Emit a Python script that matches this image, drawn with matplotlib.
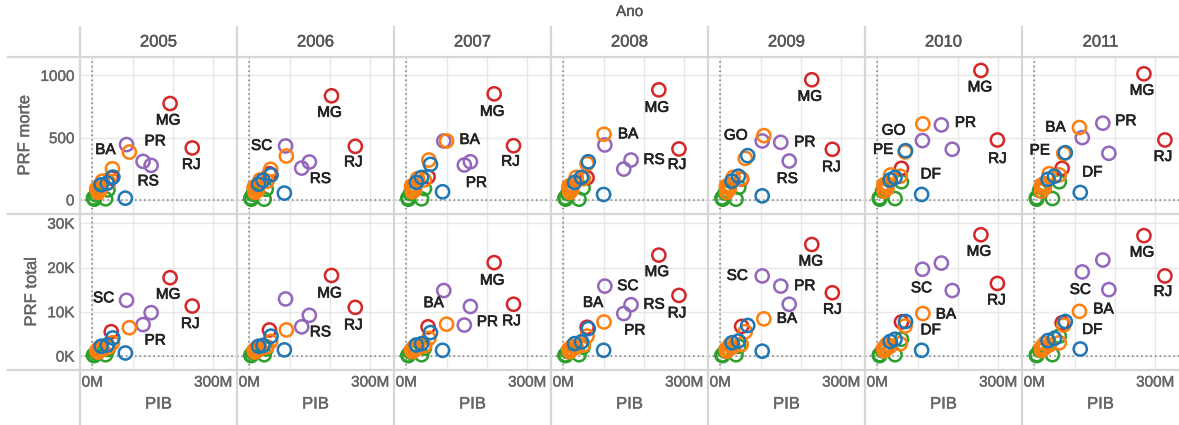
import matplotlib

matplotlib.use("Agg")
import matplotlib.pyplot as plt
import matplotlib.patheffects as pe
from matplotlib.lines import Line2D
from matplotlib.ticker import FuncFormatter

plt.rcParams["font.family"] = ["Liberation Sans", "DejaVu Sans"]

YEARS = [2005, 2006, 2007, 2008, 2009, 2010, 2011]
STATES = ["MG", "RJ", "ES", "BA", "PE", "CE", "MA", "RN", "PB", "AL", "PI", "SE",
          "PR", "RS", "SC", "GO", "DF", "MT", "MS", "PA", "AM", "RO", "TO", "AC", "AP", "RR"]
REGION = ["SE", "SE", "SE", "NE", "NE", "NE", "NE", "NE", "NE", "NE", "NE", "NE",
          "S", "S", "S", "CO", "CO", "CO", "CO", "N", "N", "N", "N", "N", "N", "N"]

# PIB (M), one row per state, columns 2005..2011
PIB = [
    [193, 204, 218, 237, 227, 257, 272],
    [248, 263, 266, 287, 278, 298, 324],
    [47, 50, 54, 59, 53, 60, 69],
    [92, 92, 100, 101, 108, 113, 112],
    [50, 53, 56, 59, 62, 69, 73],
    [41, 44, 45, 50, 52, 57, 62],
    [25, 27, 28, 32, 32, 33, 37],
    [18, 20, 21, 21, 22, 24, 25],
    [17, 19, 20, 22, 23, 23, 25],
    [14, 15, 16, 16, 17, 18, 21],
    [11, 12, 13, 14, 15, 16, 18],
    [15, 14, 15, 16, 16, 17, 18],
    [126, 130, 144, 150, 150, 159, 170],
    [146, 149, 159, 168, 171, 186, 185],
    [85, 90, 93, 103, 104, 112, 119],
    [51, 54, 60, 62, 68, 70, 77],
    [82, 87, 90, 100, 104, 110, 114],
    [37, 34, 38, 45, 45, 44, 50],
    [22, 23, 25, 28, 29, 32, 34],
    [39, 42, 45, 49, 46, 60, 62],
    [33, 37, 38, 39, 39, 44, 45],
    [13, 12, 14, 15, 16, 17, 19],
    [9, 9, 10, 11, 12, 13, 13],
    [4, 5, 5, 6, 6, 6, 6],
    [5, 5, 5, 6, 6, 6, 6],
    [3, 4, 4, 4, 4, 5, 5],
]

PRF_MORTE = [
    [774, 836, 852, 884, 965, 1040, 1013],
    [417, 430, 435, 409, 406, 481, 481],
    [175, 210, 185, 177, 167, 253, 253],
    [384, 352, 473, 527, 516, 610, 581],
    [250, 245, 320, 290, 333, 385, 372],
    [140, 150, 160, 170, 170, 190, 200],
    [150, 160, 170, 180, 180, 200, 210],
    [70, 75, 80, 80, 85, 90, 95],
    [110, 115, 120, 120, 120, 130, 130],
    [80, 85, 90, 90, 95, 100, 100],
    [90, 100, 110, 110, 110, 120, 120],
    [60, 60, 65, 60, 60, 70, 70],
    [309, 255, 280, 247, 462, 602, 616],
    [277, 304, 306, 320, 312, 406, 374],
    [444, 433, 473, 441, 473, 476, 500],
    [183, 200, 285, 306, 355, 395, 379],
    [13, 54, 65, 43, 32, 43, 59],
    [134, 156, 180, 180, 190, 180, 190],
    [121, 125, 140, 140, 150, 160, 165],
    [80, 85, 90, 95, 100, 145, 145],
    [8, 5, 8, 5, 5, 10, 10],
    [60, 60, 65, 65, 70, 90, 100],
    [40, 45, 50, 50, 55, 70, 75],
    [10, 10, 10, 10, 10, 15, 15],
    [5, 5, 5, 5, 5, 5, 5],
    [15, 15, 15, 15, 15, 15, 15],
]

PRF_TOTAL = [
    [17700, 18200, 21100, 22800, 25200, 27400, 27200],
    [11300, 11000, 11700, 13700, 14300, 16400, 18100],
    [5500, 5900, 6600, 6500, 6700, 7700, 7500],
    [6400, 5900, 7200, 7700, 8400, 9600, 10100],
    [3000, 3300, 4000, 4500, 5500, 6800, 7000],
    [2000, 2100, 2300, 2500, 2600, 2800, 3000],
    [1500, 1600, 1800, 2000, 2100, 2300, 2500],
    [1200, 1300, 1400, 1500, 1600, 1700, 1800],
    [1800, 1900, 2100, 2200, 2400, 2600, 2800],
    [1000, 1000, 1100, 1200, 1300, 1400, 1500],
    [1200, 1300, 1400, 1500, 1600, 1800, 2000],
    [900, 900, 1000, 1000, 1100, 1200, 1300],
    [7100, 6600, 7000, 9600, 15800, 21000, 21700],
    [9800, 9200, 11200, 11600, 11700, 14800, 15000],
    [12600, 12900, 14800, 15800, 18100, 19600, 19000],
    [4100, 4500, 5300, 6200, 6900, 7800, 7800],
    [700, 1400, 1300, 1300, 1100, 1300, 1600],
    [2500, 2400, 2800, 3200, 3400, 3800, 4000],
    [2200, 2200, 2500, 2800, 3000, 3300, 3500],
    [1500, 1600, 1800, 2000, 2200, 3800, 4500],
    [300, 300, 300, 300, 300, 300, 300],
    [900, 1000, 1100, 1200, 1300, 1500, 1600],
    [700, 800, 900, 1000, 1100, 1200, 1300],
    [200, 200, 200, 200, 200, 300, 300],
    [100, 100, 100, 100, 100, 100, 100],
    [200, 200, 200, 200, 200, 200, 200],
]

# label placement: (year, row, state, dx px, dy px)
LABELS = [
    (2005, 0, "BA", -24, 2), (2005, 0, "PR", 12, 20), (2005, 0, "MG", -2, -17),
    (2005, 0, "RS", -3, -16), (2005, 0, "RJ", -1, -17),
    (2005, 1, "SC", -23, 2), (2005, 1, "MG", -2, -17), (2005, 1, "RJ", -2, -18),
    (2005, 1, "PR", 12, -16),
    (2006, 0, "SC", -24, 0), (2006, 0, "MG", -2, -17), (2006, 0, "RJ", -2, -16),
    (2006, 0, "RS", 11, -17),
    (2006, 1, "MG", -2, -18), (2006, 1, "RJ", -2, -18), (2006, 1, "RS", 11, -17),
    (2007, 0, "MG", -2, -18), (2007, 0, "BA", 23, 1), (2007, 0, "RJ", -3, -16),
    (2007, 0, "PR", 12, -18),
    (2007, 1, "MG", -2, -18), (2007, 1, "BA", -13, 21), (2007, 1, "PR", 23, 3),
    (2007, 1, "RJ", -2, -17),
    (2008, 0, "MG", -2, -18), (2008, 0, "BA", 24, 0), (2008, 0, "RS", 23, 0),
    (2008, 0, "RJ", -2, -16),
    (2008, 1, "MG", -2, -17), (2008, 1, "SC", 23, 0), (2008, 1, "BA", -11, 19),
    (2008, 1, "RS", 23, 0), (2008, 1, "RJ", -2, -18), (2008, 1, "PR", 11, -17),
    (2009, 0, "MG", -2, -17), (2009, 0, "GO", -12, 20), (2009, 0, "PR", 24, 0),
    (2009, 0, "RJ", -1, -18), (2009, 0, "RS", -2, -18),
    (2009, 1, "MG", -1, -17), (2009, 1, "SC", -25, 0), (2009, 1, "PR", 24, 0),
    (2009, 1, "RJ", 0, -17), (2009, 1, "BA", 23, 0),
    (2010, 0, "MG", -1, -17), (2010, 0, "PR", 24, 2), (2010, 0, "GO", -12, 20),
    (2010, 0, "PE", -22, 2), (2010, 0, "RJ", 0, -19), (2010, 0, "DF", 9, 20),
    (2010, 1, "MG", -2, -17), (2010, 1, "SC", -1, -19), (2010, 1, "RJ", -1, -17),
    (2010, 1, "BA", 23, -1), (2010, 1, "DF", 9, 20),
    (2011, 0, "MG", -2, -17), (2011, 0, "BA", -24, 0), (2011, 0, "PR", 23, 2),
    (2011, 0, "PE", -24, 3), (2011, 0, "RJ", -2, -17), (2011, 0, "DF", 12, 20),
    (2011, 1, "MG", -2, -17), (2011, 1, "SC", -2, -18), (2011, 1, "RJ", -2, -16),
    (2011, 1, "BA", 24, 2), (2011, 1, "DF", 12, 19),
]

COLORS = {"SE": "#d62728", "NE": "#ff7f0e", "S": "#9467bd", "CO": "#1f77b4", "N": "#2ca02c"}
DRAW_ORDER = ["N", "SE", "S", "NE", "CO"]

W, H = 1179, 425
LEFT, PANEL_W = 80, 157
ROW_TOP = [57, 213.5]
ROW_H = 156.5
SEP = "#d6d6d6"
GRID = "#e8e8e8"
TXT = "#666666"


def thick(color, w=0.3):
    return [pe.withStroke(linewidth=w, foreground=color)]


fig = plt.figure(figsize=(W / 100, H / 100), dpi=100)


def fx(px):
    return px / W


def fy(py):
    return 1 - py / H


rows = [PRF_MORTE, PRF_TOTAL]
ylims = [(-110, 1148), (-3150, 32200)]
yticks = [[0, 500, 1000], [0, 10000, 20000, 30000]]
yfmt = [lambda v, p: f"{v:.0f}", lambda v, p: f"{v / 1000:.0f}K"]

for r in range(2):
    for c, year in enumerate(YEARS):
        ax = fig.add_axes([fx(LEFT + c * PANEL_W), fy(ROW_TOP[r] + ROW_H),
                           fx(PANEL_W), ROW_H / H])
        ax.set_xlim(-30.5, 359)
        ax.set_ylim(*ylims[r])
        for s in ax.spines.values():
            s.set_visible(False)
        ax.set_xticks([0, 100, 200, 300])
        ax.set_yticks(yticks[r])
        ax.grid(True, color=GRID, linewidth=1.0)
        ax.set_axisbelow(True)
        ax.axhline(0, color="#7a7a7a", linewidth=1.1, linestyle=(0, (1, 2)), zorder=1)
        ax.axvline(0, color="#7a7a7a", linewidth=1.1, linestyle=(0, (1, 2)), zorder=1)
        ax.tick_params(length=0, labelsize=11, colors=TXT, pad=4)
        if c == 0:
            ax.yaxis.set_major_formatter(FuncFormatter(yfmt[r]))
            ax.set_ylabel("PRF morte" if r == 0 else "PRF total", fontsize=12, color=TXT,
                          labelpad=6, path_effects=thick(TXT))
        else:
            ax.set_yticklabels([])
        if r == 1:
            ax.xaxis.set_major_formatter(FuncFormatter(lambda v, p: f"{v:.0f}M" if v in (0, 300) else ""))
            ax.set_xlabel("PIB", fontsize=12, color=TXT, labelpad=5, path_effects=thick(TXT))
        else:
            ax.set_xticklabels([])
        for lab in ax.get_xticklabels() + ax.get_yticklabels():
            lab.set_path_effects(thick(TXT))

        vals = rows[r]
        for reg in DRAW_ORDER:
            xs = [PIB[i][c] for i in range(len(STATES)) if REGION[i] == reg]
            ys = [vals[i][c] for i in range(len(STATES)) if REGION[i] == reg]
            ax.scatter(xs, ys, s=90, facecolors="none", edgecolors=COLORS[reg],
                       linewidths=1.8, zorder=3, clip_on=False)

        for (yr, rr, st, dx, dy) in LABELS:
            if yr == year and rr == r:
                i = STATES.index(st)
                ax.annotate(st, (PIB[i][c], vals[i][c]), xytext=(dx, dy),
                            textcoords="offset pixels", ha="center", va="center",
                            fontsize=11, color="#222222", zorder=5,
                            path_effects=thick("#222222", 0.5))

        if r == 0:
            fig.text(fx(LEFT + c * PANEL_W + PANEL_W / 2), fy(42), str(year),
                     ha="center", va="center", fontsize=12, color="#555555",
                     path_effects=thick("#555555"))

fig.text(fx(LEFT + 7 * PANEL_W / 2), fy(12), "Ano", ha="center", va="center",
         fontsize=11, color="#555555", path_effects=thick("#555555"))

# panel separators
for c in range(7):
    x = fx(LEFT + c * PANEL_W)
    fig.add_artist(Line2D([x, x], [fy(27), fy(H)], color=SEP, linewidth=1.6))
for py in [57, 213.5, 370]:
    fig.add_artist(Line2D([fx(8), 1], [fy(py), fy(py)], color=SEP, linewidth=1.6))

fig.savefig("out.png", dpi=100, facecolor="white")
